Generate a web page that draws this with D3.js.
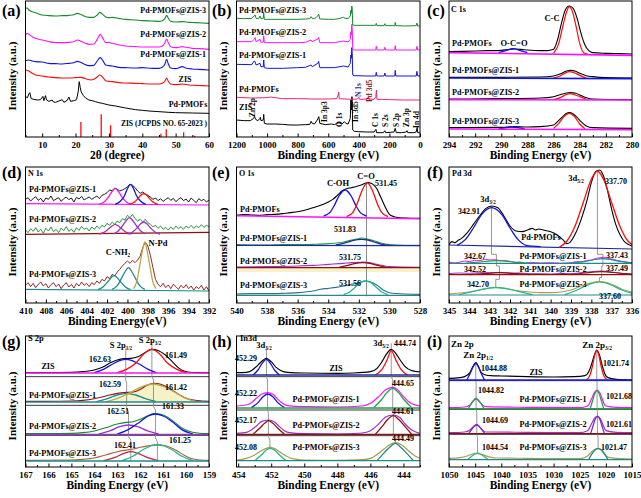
<!DOCTYPE html>
<html><head><meta charset="utf-8">
<script src="https://cdn.jsdelivr.net/npm/d3@7/dist/d3.min.js"></script>
<style>
html,body{margin:0;padding:0;background:#fff;}
text{font-family:"Liberation Serif","Times New Roman",serif;font-weight:bold;}
</style></head><body>
<svg id="chart" width="641" height="498"></svg>
<script>
// ================= DATA (x, intensity a.u. pairs) =================
const sampleNames = ["Pd-PMOFs","ZIS","Pd-PMOFs@ZIS-1","Pd-PMOFs@ZIS-2","Pd-PMOFs@ZIS-3"];

// (a) XRD, 2θ (degree)
const ticksA = [10,20,30,40,50,60], minorA = [5,15,25,35,45,55];
const xrdPdPMOFs = [5,121, 5.6,118, 6.0,129, 6.3,133, 6.7,115, 7.5,113, 8.5,111, 9.5,112, 10.2,122, 10.5,109, 11,124, 11.3,111, 12,107, 13,111, 13.4,105, 14,104, 15,108, 16,112, 16.5,104, 17.5,110, 18,120, 18.5,107, 19.5,109, 20.3,112, 20.8,136, 21.1,166, 21.4,149, 21.7,135, 22.3,125, 23,117, 24,111, 25,109, 26,106, 27,103, 28,101, 30,96, 32,93, 35,87, 38,82, 40,80, 42,78, 45,76, 48,74, 50,73, 55,72, 60,71];
const xrdZIS = [5,201, 6,198, 7,191, 8,186, 10,183, 12,180, 14,178, 16,177, 18,177, 20,178, 21.5,179, 23,175, 24.5,171, 25.5,173, 26.5,180, 27.3,186, 28.2,179, 29,169, 30,167, 31,166, 33,163, 35,162, 38,161, 40,160, 43,159, 45,159, 46,161, 46.8,168, 47.3,177, 47.8,167, 48.5,159, 50,157, 52,159, 54,156, 56,155, 58,154, 60,153];
const xrdZIS1 = [5,229, 6,231, 7,228, 8,226, 10,225, 12,221, 14,220, 16,219, 18,221, 19.5,223, 20.5,227, 21.3,225, 22.5,219, 24,214, 25.5,215, 26.5,228, 27.4,238, 28.2,229, 29,216, 30,214, 31,213, 33,209, 35,208, 38,207, 40,208, 43,206, 45,206, 46,209, 46.8,219, 47.3,233, 47.8,219, 48.5,207, 50,205, 52,211, 53,207, 55,204, 57,203, 60,201];
const xrdZIS2 = [5,308, 5.5,311, 6,308, 7,301, 8,296, 9,293, 10,291, 12,286, 14,283, 16,283, 18,284, 19.5,286, 20.5,291, 21.3,289, 22.5,283, 24,278, 25.5,279, 26.5,293, 27.4,308, 28.2,296, 29,283, 30,284, 31,281, 33,276, 35,273, 38,271, 40,270, 43,270, 45,270, 46,273, 46.8,283, 47.3,294, 47.8,283, 48.5,271, 50,268, 52,271, 53,269, 55,266, 57,265, 60,263];
const xrdZIS3 = [5,386, 5.5,387, 6,381, 7,376, 8,373, 9,369, 10,366, 12,364, 14,363, 16,364, 18,365, 19.5,367, 20.5,371, 21.3,369, 22.5,363, 24,359, 25.5,359, 26.5,366, 27.3,374, 28,369, 29,361, 30,358, 31,359, 33,356, 35,353, 38,351, 40,349, 43,348, 45,347, 46,349, 46.8,356, 47.3,365, 47.8,356, 48.5,347, 50,345, 52,346, 54,344, 56,343, 58,342, 60,341];
const jcpdsAngle = [21.6, 27.7, 30.5, 45.6, 47.2, 52.4, 55.7];
const jcpdsIntensity = [45, 68, 35, 10, 23, 14, 4];

// (b) XPS survey
const ticksB = [1200,1000,800,600,400,200,0], minorB = [1100,900,700,500,300,100];
const surveyZIS = [1200,51, 1150,49, 1110,49, 1090,55, 1082,61, 1075,53, 1060,49, 1048,55, 1044,59, 1040,49, 1025,51, 1022,68, 1018,41, 1000,39, 950,39, 900,38, 850,36, 800,36, 750,37, 720,38, 712,47, 705,41, 690,39, 668,54, 662,61, 655,41, 620,37, 580,39, 560,37, 530,43, 510,39, 495,46, 485,41, 470,39, 456,56, 452,111, 449,81, 445,121, 443,106, 440,21, 430,17, 400,16, 350,15, 300,15, 288,23, 284,13, 240,13, 230,19, 225,13, 170,15, 162,26, 155,13, 120,13, 90,15, 85,19, 80,13, 40,13, 25,15, 18,29, 15,13, 5,13, 0,13];
const surveyPd = [1200,119, 1100,117, 1000,118, 980,120, 900,115, 800,115, 700,114, 600,114, 545,115, 535,126, 532,135, 528,115, 450,113, 410,114, 400,119, 395,113, 345,114, 338,121, 333,114, 300,113, 289,121, 285,141, 282,113, 250,113, 200,112, 100,111, 0,111];
const surveyZIS1 = [1200,218, 1100,217, 1085,228, 1078,226, 1072,216, 1046,221, 1040,211, 1025,211, 1022,231, 1018,208, 1000,206, 900,206, 800,208, 750,209, 712,216, 705,211, 668,221, 663,227, 655,208, 560,208, 500,213, 470,210, 456,221, 452,246, 449,236, 446,268, 443,251, 440,186, 430,184, 350,183, 290,183, 286,194, 282,183, 235,183, 230,192, 225,183, 165,183, 162,200, 158,183, 25,183, 20,197, 15,183, 0,183];
const surveyZIS2 = [1200,286, 1100,286, 1085,293, 1078,298, 1072,286, 1046,293, 1040,284, 1025,285, 1022,304, 1018,283, 1000,283, 900,283, 800,283, 750,284, 712,291, 705,286, 668,294, 663,299, 655,283, 560,283, 500,288, 470,285, 456,293, 452,316, 449,306, 446,338, 443,321, 440,263, 430,261, 350,261, 290,261, 286,272, 282,261, 235,261, 230,269, 225,261, 165,261, 162,274, 158,261, 25,261, 20,272, 15,261, 0,261];
const surveyZIS3 = [1200,356, 1150,355, 1100,356, 1085,363, 1078,366, 1072,356, 1055,355, 1046,363, 1040,355, 1025,356, 1022,373, 1018,353, 1000,353, 900,353, 800,353, 750,354, 720,355, 712,361, 705,356, 690,355, 668,363, 663,369, 655,354, 600,353, 560,353, 530,355, 500,359, 490,356, 470,355, 456,363, 452,381, 449,371, 446,393, 443,381, 440,336, 430,335, 350,335, 290,335, 286,341, 282,334, 235,334, 230,340, 225,334, 165,334, 162,344, 158,334, 100,333, 25,334, 20,342, 15,333, 0,333];
const surveyPeakNames = ["Zn 2p","In 3p3","O 1s","In 3d5","N 1s","Pd 3d5","C 1s","S 2s","S 2p","Zn 3p","In 4d"];
const surveyPeakEnergies = [1022, 665, 530, 445, 400, 335, 285, 230, 162, 88, 18];

// (c) C 1s
const ticksC = [294,292,290,288,286,284,282,280], minorC = [293,291,289,287,285,283,281];
const c1sPdRaw = [294,256, 293,257, 292,258, 291,259, 290,260, 289.5,262, 289,264, 288.5,263, 288,261, 287,259, 286.5,259, 286,263, 285.7,291, 285.4,341, 285.1,381, 284.8,393, 284.5,386, 284.2,356, 283.9,311, 283.6,276, 283.3,259, 283,253, 282,251, 281,250, 280,249];
const c1sPdCC = [286,251, 285.6,281, 285.3,331, 285,376, 284.8,391, 284.6,381, 284.3,336, 284,281, 283.7,253, 283.4,249];
const c1sPdOCO = [290.2,253, 289.6,260, 289.1,265, 288.6,260, 288.0,253];
const c1sPdBg = [294,253, 280,245];
const c1s1Raw = [294,179, 290,179, 287,180, 286,183, 285.5,189, 285,198, 284.7,200, 284.3,197, 284,191, 283.5,184, 283,181, 282,178, 280,177];
const c1s1CC = [286,177, 285.5,183, 285,194, 284.8,196, 284.5,194, 284,185, 283.5,177];
const c1s1Bg = [294,177, 280,175];
const c1s2Raw = [294,114, 290,115, 287,117, 286,121, 285.5,127, 285,132, 284.7,133, 284.3,131, 284,126, 283.5,118, 283,114, 280,112];
const c1s2CC = [286,112, 285.5,118, 285,128, 284.8,130, 284.5,128, 284,121, 283.5,113];
const c1s2Bg = [294,112, 280,111];
const c1s3Raw = [294,28, 290,29, 289,31, 288,30, 287,31, 286,36, 285.7,46, 285.3,61, 285,71, 284.8,73, 284.5,69, 284.2,59, 283.9,46, 283.5,33, 283,28, 280,26];
const c1s3CC = [286,26, 285.6,41, 285.2,61, 284.8,71, 284.4,61, 284,39, 283.6,25];
const c1s3OCO = [290.2,24, 289.2,30, 288.2,24];
const c1s3Bg = [294,24, 280,22];

// (d) N 1s  (raw spectra on a 0.25 eV grid from 410 to 392 eV)
const ticksD = [410,408,406,404,402,400,398,396,394,392], minorD = [409,407,405,403,401,399,397,395,393];
const n1sEnergy = d3.range(410, 391.99, -0.25);
const n1s1Raw = [311,316,306,313,319,308,314,303,315,311, 321,307,312,316,305,313,318,310,315,303, 317,312,320,309,314,318,311,316,321,313, 323,326,331,339,337,345,341,336,339,343, 349,356,353,346,336,329,333,327,323,318, 311,315,307,313,305,311,316,308,314,304, 311,316,307,312,303,315,308,301,313,307, 311,303,309];
const n1s2Raw = [219,211,223,215,226,213,221,209,224,216, 228,214,221,211,225,217,229,215,222,212, 226,218,230,221,225,216,228,221,231,223, 233,228,239,233,243,236,246,241,253,249, 263,256,266,253,246,251,243,251,241,236, 229,233,224,231,221,227,219,228,221,231, 223,229,221,231,225,233,224,231,226,235, 227,233,229];
const n1s3Raw = [53,61,49,59,46,56,63,51,58,45, 55,61,49,57,43,54,61,48,56,45, 59,51,63,53,59,49,61,55,66,59, 71,66,79,73,86,81,93,101,111,119, 126,119,128,121,129,141,166,183,171,143, 106,71,56,49,59,46,54,43,56,49, 41,53,45,55,43,51,39,49,43,53, 39,49,36];
const n1s1FitA = [402.8,296, 402.3,303, 401.9,316, 401.55,333, 401.2,343, 400.85,333, 400.5,316, 400.1,303, 399.6,296];
const n1s1FitB = [401.2,296, 400.7,305, 400.3,321, 400.0,343, 399.7,356, 399.4,343, 399.1,321, 398.7,305, 398.2,296];
const n1s1FitC = [399.8,296, 399.3,303, 398.95,314, 398.7,323, 398.4,328, 398.1,323, 397.85,314, 397.5,303, 397.0,296];
const n1s1Bg = [410,298, 392,294];
const n1s2FitA = [402.8,207, 402.3,212, 401.9,221, 401.55,230, 401.2,236, 400.85,230, 400.5,221, 400.1,212, 399.6,207];
const n1s2FitB = [401.4,207, 400.9,216, 400.5,231, 400.15,246, 399.8,256, 399.45,246, 399.1,231, 398.7,216, 398.2,207];
const n1s2FitC = [400.0,207, 399.5,213, 399.1,224, 398.75,236, 398.4,243, 398.05,236, 397.7,224, 397.3,213, 396.8,207];
const n1s2Bg = [410,206, 392,212];
const n1s3FitA = [402.9,40, 402.4,48, 402.0,61, 401.65,74, 401.3,83, 400.95,74, 400.6,61, 400.2,48, 399.7,40];
const n1s3FitB = [401.5,41, 401.0,52, 400.6,73, 400.25,93, 399.9,106, 399.55,93, 399.2,73, 398.8,52, 398.3,41];
const n1s3FitC = [399.4,43, 399.1,63, 398.8,111, 398.55,154, 398.3,183, 398.05,154, 397.8,111, 397.5,63, 397.2,43];
const n1s3Bg = [410,41, 392,36];

// (e) O 1s
const ticksE = [540,538,536,534,532,530,528], minorE = [539,537,535,533,531,529];
const o1sPdRaw = [540,263, 539.5,265, 539,264, 538.5,263, 538,265, 537.5,266, 537,268, 536.5,271, 536,274, 535.5,279, 535,286, 534.5,293, 534,303, 533.7,311, 533.4,323, 533.1,336, 532.8,343, 532.5,346, 532.2,349, 531.9,353, 531.6,359, 531.4,361, 531.2,359, 531.0,353, 530.8,341, 530.6,321, 530.4,301, 530.2,281, 530,266, 529.7,259, 529.4,256, 529,255, 528.5,254, 528,254];
const o1sPdCOH = [534.3,261, 533.9,271, 533.6,293, 533.3,321, 532.9,339, 532.5,321, 532.2,293, 531.9,271, 531.5,261];
const o1sPdCO = [532.8,259, 532.4,271, 532.1,299, 531.8,336, 531.45,361, 531.1,336, 530.8,299, 530.5,271, 530.1,259];
const o1sPdBg = [540,262, 528,253];
const o1s1Raw = [540,175, 539,174, 538,174, 537,175, 536,175, 535,176, 534,178, 533,183, 532.5,189, 532,193, 531.8,195, 531.5,193, 531,187, 530.5,179, 530,175, 529,173, 528,173];
const o1s1Fit = [533.5,174, 533,179, 532.5,186, 532.1,190, 531.8,191, 531.4,189, 531,183, 530.5,176, 530,173];
const o1s1Bg = [540,173, 528,172];
const o1s2Raw = [540,108, 538,109, 536,111, 535,113, 534,116, 533,119, 532.5,121, 532,122, 531.7,123, 531.3,121, 531,118, 530.5,113, 530,109, 528,107];
const o1s2Fit = [533.3,107, 532.8,112, 532.3,118, 531.75,121, 531.2,118, 530.7,112, 530.2,107];
const o1s2Bg = [540,106, 528,106];
const o1s2Band = [540,93, 528,93];
const o1s3Raw = [540,27, 539,28, 538,28, 537,29, 536,31, 535,36, 534.5,41, 534,44, 533.5,47, 533,51, 532.5,56, 532,61, 531.6,66, 531.2,63, 530.8,53, 530.4,39, 530,31, 529,27, 528,26];
const o1s3Fit = [533,25, 532.6,33, 532.2,49, 531.9,61, 531.56,66, 531.2,61, 530.9,49, 530.5,33, 530.1,25];
const o1s3Bg = [540,23, 528,23];
const o1sGuide = [531.5,361, 531.5,20];
const o1sPeakLabels = ["531.45","531.83","531.75","531.56"];

// (f) Pd 3d
const ticksF = [345,344,343,342,341,340,339,338,337,336], minorF = [344.5,343.5,342.5,341.5,340.5,339.5,338.5,337.5,336.5];
const pd3dPdRaw = [345,176, 344.85,184, 344.7,181, 344.55,188, 344.4,193, 344.1,211, 343.8,236, 343.5,261, 343.2,283, 342.9,291, 342.6,286, 342.3,261, 342,231, 341.7,216, 341.4,214, 341.1,220, 340.9,224, 340.75,219, 340.6,222, 340.3,218, 340,214, 339.7,205, 339.4,190, 339.2,178, 339.05,182, 338.8,206, 338.5,251, 338.2,311, 338.0,361, 337.8,393, 337.6,399, 337.4,381, 337.2,336, 337,281, 336.8,236, 336.6,206, 336.4,186, 336.2,176, 336,171];
const pd3dPdFit1 = [344.6,173, 344.2,190, 343.8,225, 343.4,265, 342.91,286, 342.4,265, 342.0,225, 341.6,190, 341.2,173, 340.5,169];
const pd3dPdFit2 = [339.6,166, 339.2,186, 338.8,231, 338.4,301, 338.0,371, 337.7,396, 337.4,371, 337.0,301, 336.6,231, 336.2,186, 336,176];
const pd3dPdBg = [345,174, 336,162];
const pd3d1Raw = [345,123, 344.75,120, 344.5,122, 344.25,126, 344,124, 343.75,128, 343.5,127, 343.25,131, 343,129, 342.7,130, 342.5,127, 342.3,128, 342,125, 341.75,121, 341.5,123, 341.25,119, 341,122, 340.5,120, 340,121, 339.5,119, 339,121, 338.75,124, 338.5,123, 338.25,127, 338,129, 337.7,135, 337.4,137, 337.1,133, 336.9,131, 336.7,127, 336.5,125, 336.3,123, 336,121];
const pd3d1Fit1 = [344.2,119, 343.5,123, 342.67,127, 341.8,123, 341.1,119];
const pd3d1Fit2 = [339,119, 338.3,125, 337.43,133, 336.6,125, 336,120];
const pd3d1Bg = [345,119, 336,119];
const pd3d2Raw = [345,88, 344.5,90, 344,89, 343.5,91, 343,91, 342.5,92, 342,90, 341.5,90, 341,88, 340.5,88, 340,87, 339.5,89, 339,88, 338.5,91, 338,94, 337.5,96, 337,93, 336.5,89, 336,87];
const pd3d2Fit1 = [344,85, 343.3,88, 342.52,91, 341.7,88, 341,85];
const pd3d2Fit2 = [339,85, 338.3,90, 337.49,94, 336.7,90, 336,86];
const pd3d2Bg = [345,85, 336,85];
const pd3d3Raw = [345,27, 344.5,30, 344,33, 343.5,39, 343,45, 342.7,47, 342.3,45, 342,41, 341.5,36, 341,33, 340.5,31, 340,31, 339.5,33, 339,39, 338.5,51, 338,61, 337.6,64, 337.2,61, 336.8,51, 336.4,39, 336,33];
const pd3d3Fit1 = [344.5,25, 343.8,35, 343.2,43, 342.7,46, 342.2,43, 341.6,35, 340.9,25];
const pd3d3Fit2 = [339.3,25, 338.7,39, 338.1,56, 337.6,63, 337.1,56, 336.5,39, 336,29];
const pd3d3Bg = [345,24, 336,24];
const pd3dGuide32 = [342.91,291, 342.91,146, 342.67,146, 342.67,111, 342.52,111, 342.52,71, 342.70,71, 342.70,47];
const pd3dGuide52 = [337.70,399, 337.70,146, 337.43,146, 337.43,111, 337.49,111, 337.49,76, 337.60,76, 337.60,63];

// (g) S 2p
const ticksG = [167,166,165,164,163,162,161,160,159], minorG = [166.5,165.5,164.5,163.5,162.5,161.5,160.5,159.5];
const s2pZISRaw = [167,283, 166,283, 165,284, 164.5,286, 164,291, 163.6,301, 163.3,313, 163,321, 162.7,325, 162.4,326, 162.1,331, 161.8,343, 161.5,353, 161.2,349, 160.9,336, 160.6,316, 160.3,296, 160,286, 159.5,283, 159,283];
const s2pZISFit1 = [164,283, 163.6,293, 163.2,309, 162.9,319, 162.63,323, 162.35,319, 162.05,309, 161.65,293, 161.3,283];
const s2pZISFit2 = [163,283, 162.6,293, 162.2,311, 161.85,339, 161.49,353, 161.15,339, 160.8,311, 160.4,293, 160,283];
const s2pZISBg = [167,282, 159,282];
const s2p1Raw = [167,197, 166,197, 165,198, 164.5,200, 164,205, 163.5,213, 163,221, 162.6,224, 162.3,225, 162,233, 161.7,245, 161.4,251, 161.1,248, 160.8,239, 160.5,226, 160.2,213, 159.9,204, 159.5,199, 159,197];
const s2p1Fit1 = [163.9,196, 163.4,206, 163,216, 162.59,221, 162.2,216, 161.8,206, 161.3,196];
const s2p1Fit2 = [163.5,196, 163,206, 162.5,221, 162,239, 161.42,249, 160.9,239, 160.4,221, 160,206, 159.5,196];
const s2p1Bg = [167,195, 159,195];
const s2p2Raw = [167,100, 166,100, 165,101, 164.5,103, 164,108, 163.5,118, 163,129, 162.6,134, 162.3,136, 162,143, 161.7,153, 161.4,160, 161.1,158, 160.8,149, 160.5,134, 160.2,118, 159.9,108, 159.5,102, 159,100];
const s2p2Fit1 = [163.8,99, 163.3,109, 162.9,121, 162.51,126, 162.1,121, 161.7,109, 161.2,99];
const s2p2Fit2 = [163,99, 162.5,113, 162,136, 161.65,153, 161.33,159, 161,153, 160.6,136, 160.2,113, 159.7,99];
const s2p2Bg = [167,98, 159,98];
const s2p3Raw = [167,20, 165,21, 164.5,23, 164,27, 163.5,36, 163,46, 162.6,51, 162.3,54, 162,59, 161.6,64, 161.3,67, 161,65, 160.7,59, 160.4,49, 160.1,36, 159.8,26, 159.4,21, 159,20];
const s2p3Fit1 = [163.6,19, 163.1,29, 162.7,41, 162.41,46, 162.1,41, 161.7,29, 161.2,19];
const s2p3Fit2 = [162.8,19, 162.3,33, 161.9,51, 161.55,63, 161.25,66, 160.95,63, 160.6,51, 160.2,33, 159.7,19];
const s2p3Bg = [167,18, 159,18];
const s2pGuide12 = [162.63,356, 162.63,261, 162.59,251, 162.59,176, 162.51,166, 162.51,91, 162.41,81, 162.41,20];
const s2pGuide32 = [161.49,376, 161.49,271, 161.42,261, 161.42,181, 161.33,171, 161.33,86, 161.25,76, 161.25,20];

// (h) In 3d
const ticksH = [454,452,450,448,446,444], minorH = [453,451,449,447,445,443];
const in3dZISRaw = [454.1,283, 453.5,284, 453.2,289, 452.9,301, 452.6,316, 452.3,326, 452.0,316, 451.7,299, 451.4,289, 451,284, 450,282, 448,281, 447,282, 446,286, 445.6,296, 445.3,316, 445,341, 444.74,353, 444.5,343, 444.2,321, 443.9,301, 443.5,289, 443,285];
const in3dZISFit1 = [453.1,276, 452.8,291, 452.55,311, 452.29,323, 452.05,311, 451.8,291, 451.5,276];
const in3dZISFit2 = [445.7,276, 445.3,293, 445.0,320, 444.74,349, 444.45,320, 444.15,293, 443.75,276];
const in3dZISBg = [454.1,276, 443,276];
const in3d1Raw = [454.1,183, 453.5,186, 453.2,193, 452.9,206, 452.6,218, 452.22,223, 451.9,218, 451.6,203, 451.3,191, 451,184, 450,181, 448,180, 446.5,183, 446,191, 445.5,211, 445.1,231, 444.65,239, 444.3,229, 444,211, 443.6,193, 443,183];
const in3d1Fit1 = [453.2,178, 452.8,193, 452.5,211, 452.22,219, 451.9,211, 451.6,193, 451.2,178];
const in3d1Fit2 = [445.8,178, 445.35,201, 445.0,223, 444.65,236, 444.3,223, 443.95,201, 443.5,178];
const in3d1Bg = [454.1,177, 443,177];
const in3d2Raw = [454.1,101, 453.5,104, 453.2,111, 452.9,123, 452.6,136, 452.17,141, 451.8,135, 451.5,121, 451.2,109, 450.9,103, 450,100, 448,99, 446.5,102, 446,109, 445.5,129, 445.1,149, 444.61,156, 444.2,148, 443.9,129, 443.5,111, 443,101];
const in3d2Fit1 = [453.1,98, 452.7,116, 452.4,131, 452.17,139, 451.9,131, 451.6,116, 451.2,98];
const in3d2Fit2 = [445.7,98, 445.3,121, 444.95,143, 444.61,154, 444.3,143, 443.9,121, 443.5,98];
const in3d2Bg = [454.1,98, 443,98];
const in3d3Raw = [454.1,21, 453.5,26, 453,36, 452.6,49, 452.3,56, 452.08,59, 451.8,55, 451.5,46, 451.1,33, 450.7,25, 450,21, 448,20, 446.5,22, 446,26, 445.5,41, 445,61, 444.49,73, 444.1,66, 443.7,49, 443.3,33, 443,26];
const in3d3Fit1 = [453,19, 452.6,36, 452.3,51, 452.08,56, 451.8,51, 451.5,36, 451.1,19];
const in3d3Fit2 = [445.6,19, 445.2,41, 444.8,61, 444.49,71, 444.2,61, 443.8,41, 443.4,19];
const in3d3Bg = [454.1,19, 443,19];
const in3dGuide32 = [452.29,356, 452.29,271, 452.22,261, 452.22,171, 452.17,161, 452.17,91, 452.08,81, 452.08,59];
const in3dGuide52 = [444.74,371, 444.74,271, 444.65,261, 444.65,171, 444.61,161, 444.61,91, 444.49,81, 444.49,73];

// (i) Zn 2p
const ticksI = [1050,1045,1040,1035,1030,1025,1020,1015], minorI = [1047.5,1042.5,1037.5,1032.5,1027.5,1022.5,1017.5];
const zn2pZISRaw = [1050,266, 1048,268, 1047,271, 1046,283, 1045.5,299, 1044.88,313, 1044.3,299, 1043.8,283, 1043,276, 1042,274, 1040,273, 1035,271, 1030,270, 1026,271, 1024,274, 1023.3,285, 1022.7,310, 1022.2,335, 1021.74,351, 1021.2,335, 1020.7,305, 1020.2,280, 1019.6,268, 1018,263, 1015,261];
const zn2pZISFit1 = [1046.6,261, 1045.9,283, 1045.4,301, 1044.88,311, 1044.4,301, 1043.9,283, 1043.2,261];
const zn2pZISFit2 = [1023.74,262, 1023.34,267, 1022.94,280, 1022.54,305, 1022.14,335, 1021.74,349, 1021.34,335, 1020.94,305, 1020.54,280, 1020.14,267, 1019.74,262];
const zn2pZISBg = [1050,261, 1015,261];
const zn2p1Raw = [1050,178, 1047,180, 1046,186, 1045.5,196, 1044.82,206, 1044.2,196, 1043.6,186, 1043,181, 1035,179, 1025,178, 1023.5,183, 1022.7,206, 1022.2,223, 1021.68,231, 1021.1,221, 1020.5,196, 1020,183, 1018,179, 1015,178];
const zn2p1Fit1 = [1046.3,175, 1045.7,191, 1045.2,201, 1044.82,204, 1044.4,201, 1043.9,191, 1043.3,175];
const zn2p1Fit2 = [1023,175, 1022.5,201, 1022.1,221, 1021.68,229, 1021.3,221, 1020.9,201, 1020.4,175];
const zn2p1Bg = [1050,175, 1015,175];
const zn2p2Raw = [1050,103, 1047,105, 1046,111, 1045.5,119, 1044.69,128, 1044.1,119, 1043.5,109, 1043,105, 1035,104, 1025,103, 1023.5,109, 1022.7,131, 1022.2,146, 1021.61,153, 1021.0,143, 1020.4,121, 1020,109, 1018,104, 1015,103];
const zn2p2Fit1 = [1046.2,101, 1045.6,114, 1045.1,123, 1044.69,126, 1044.3,123, 1043.8,114, 1043.2,101];
const zn2p2Fit2 = [1022.9,101, 1022.4,126, 1022.0,145, 1021.61,151, 1021.2,145, 1020.8,126, 1020.3,101];
const zn2p2Bg = [1050,100, 1015,100];
const zn2p3Raw = [1050,26, 1048,28, 1046.5,33, 1045.5,39, 1044.54,42, 1043.6,37, 1042.5,31, 1041,27, 1035,26, 1025,25, 1023.5,33, 1022.6,47, 1022,54, 1021.47,56, 1020.9,51, 1020.3,39, 1019.5,29, 1017,25, 1015,24];
const zn2p3Fit1 = [1046.5,22, 1045.6,33, 1045,39, 1044.54,41, 1044.1,39, 1043.4,33, 1042.5,22];
const zn2p3Fit2 = [1023.3,22, 1022.6,41, 1022,52, 1021.47,55, 1020.9,52, 1020.3,41, 1019.6,22];
const zn2p3Bg = [1050,22, 1015,22];
const zn2pGuide12 = [1044.88,313, 1044.88,259, 1044.82,249, 1044.82,173, 1044.69,163, 1044.69,98, 1044.54,88, 1044.54,42];
const zn2pGuide32 = [1021.74,351, 1021.74,259, 1021.68,249, 1021.68,173, 1021.61,163, 1021.61,98, 1021.47,88, 1021.47,56];

// ================= DRAWING =================
const svg = d3.select('#chart');
const COL = {black:'#000', red:'#ff0a0a', blue:'#1414e0', magenta:'#ff10ff', green:'#138a2c', olive:'#ab9d4a',
  darkred:'#8e1010', purple:'#9a30d0', teal:'#1e8a8c', sea:'#22b88a', navy:'#1c2a9c', brown:'#a8623a',
  crimson:'#c8204a', pink:'#f0207a', gray:'#8c8c8c', steel:'#2f6f90', lgreen:'#22a04a', khaki:'#b8a848',
  yellow:'#f6f1c6'};
const COLS = [[25.5,209],[236.5,420],[449,632]];
const ROWS = [{top:1,bot:137,org:0},{top:167,bot:303,org:166},{top:336,bot:467,org:330}];
const pairs = a => d3.range(0, a.length - 1, 2).map(i => [a[i], a[i+1]]);

function panel(col,row,xdom,major,minor,letter,xTitle){
  const [l,r]=COLS[col], R=ROWS[row];
  const x=d3.scaleLinear().domain(xdom).range([l,r]);
  const y=d3.scaleLinear().domain([0,411]).range([R.org+137,R.org]);
  const id='clip'+letter;
  svg.append('clipPath').attr('id',id).append('rect').attr('x',l).attr('y',R.top).attr('width',r-l).attr('height',R.bot-R.top);
  const plot=svg.append('g').attr('clip-path',`url(#${id})`);
  const ax=svg.append('g').attr('transform',`translate(0,${R.bot})`);
  ax.call(d3.axisBottom(x).tickValues(major).tickSize(-3.5).tickPadding(4.5).tickFormat(d3.format('d')));
  ax.append('g').call(d3.axisBottom(x).tickValues(minor).tickSize(-2).tickFormat(''));
  ax.selectAll('.domain').remove();
  ax.selectAll('text').attr('font-size',9).style('fill','#000');
  ax.selectAll('line').attr('stroke','#000');
  svg.append('rect').attr('x',l).attr('y',R.top).attr('width',r-l).attr('height',R.bot-R.top)
     .attr('fill','none').attr('stroke','#000').attr('stroke-width',1);
  svg.append('text').attr('x',(l+r)/2).attr('y',R.bot+22).attr('text-anchor','middle').attr('font-size',11.5).text(xTitle);
  svg.append('text').attr('transform',`translate(${l-13.5},${R.org+76}) rotate(-90)`).attr('text-anchor','middle')
     .attr('dominant-baseline','central').attr('font-size',11).text('Intensity (a.u.)');
  const lx=[2,212,427][col], ly=[16,178,347][row];
  svg.append('text').attr('x',lx).attr('y',ly).attr('font-size',16).text(`(${letter})`);
  return {x,y,plot,l,r,top:R.top,bot:R.bot};
}
function draw(p,arr,color,w,smooth){
  const ln=d3.line().x(d=>p.x(d[0])).y(d=>p.y(d[1])).curve(smooth?d3.curveMonotoneX:d3.curveLinear);
  p.plot.append('path').attr('d',ln(pairs(arr))).attr('fill','none').attr('stroke',color)
    .attr('stroke-width',w).attr('stroke-linejoin','round');
}
function drawGrid(p,xs,ys,color,w){
  const ln=d3.line().x(d=>p.x(d[0])).y(d=>p.y(d[1]));
  const pts=d3.range(Math.min(xs.length,ys.length)).map(i=>[xs[i],ys[i]]);
  p.plot.append('path').attr('d',ln(pts)).attr('fill','none').attr('stroke',color).attr('stroke-width',w);
}
function fillArea(p,arr,base,color){
  const ar=d3.area().x(d=>p.x(d[0])).y0(p.y(base)).y1(d=>p.y(d[1])).curve(d3.curveMonotoneX);
  p.plot.append('path').attr('d',ar(pairs(arr))).attr('fill',color).attr('stroke','none');
}
function hline(p,v,color,w){
  p.plot.append('line').attr('x1',p.l).attr('x2',p.r).attr('y1',p.y(v)).attr('y2',p.y(v)).attr('stroke',color).attr('stroke-width',w);
}
function txt(x,y,s,size,anchor,fill){
  return svg.append('text').attr('x',x).attr('y',y).attr('font-size',size||8).attr('text-anchor',anchor||'start')
    .attr('dominant-baseline','central').style('fill',fill||'#000').text(s);
}
function subTxt(x,y,main,sub,size,anchor){
  const t=svg.append('text').attr('x',x).attr('y',y).attr('font-size',size).attr('text-anchor',anchor||'middle').attr('dominant-baseline','central');
  t.append('tspan').text(main);
  t.append('tspan').attr('font-size',size*0.6).attr('dy',size*0.3).text(sub);
  return t;
}

// ---- (a)
{
  const p=panel(0,0,[5,60],ticksA,minorA,'a','2θ (degree)');
  jcpdsAngle.forEach((a,i)=>p.plot.append('line').attr('x1',p.x(a)).attr('x2',p.x(a)).attr('y1',p.y(0)).attr('y2',p.y(jcpdsIntensity[i]))
      .attr('stroke',COL.red).attr('stroke-width',1.3));
  draw(p,xrdPdPMOFs,COL.black,1,false);
  draw(p,xrdZIS,COL.red,1.1,true);
  draw(p,xrdZIS1,COL.blue,1.1,true);
  draw(p,xrdZIS2,COL.magenta,1.1,true);
  draw(p,xrdZIS3,COL.green,1.1,true);
  txt(206,10,sampleNames[4],8,'end'); txt(206,34,sampleNames[3],8,'end'); txt(206,54,sampleNames[2],8,'end');
  txt(185,79,sampleNames[1],8,'middle'); txt(188,104,sampleNames[0],8,'middle');
  txt(207,123,'ZIS (JCPDS NO. 65-2023 )',7.5,'end');
}
// ---- (b)
{
  const p=panel(1,0,[1200,0],ticksB,minorB,'b','Binding Energy (eV)');
  draw(p,surveyZIS,COL.black,1,false);
  draw(p,surveyPd,COL.pink,1,false);
  draw(p,surveyZIS1,COL.blue,1,false);
  draw(p,surveyZIS2,COL.magenta,1,false);
  draw(p,surveyZIS3,COL.green,1,false);
  txt(239,10,sampleNames[4],8.2); txt(239,32,sampleNames[3],8.2); txt(239,55,sampleNames[2],8.2);
  txt(239,89,sampleNames[0],8.2); txt(239,107,sampleNames[1],8.2);
  const dx=[-11.5,6.5,1,4,0,1,-1,1,1,0,-1], by=[117,122,127,122,97,102,127,127,127,127,128];
  const fc=['#000','#000','#000','#000',COL.navy,COL.darkred,'#000','#000','#000','#000','#000'];
  surveyPeakNames.forEach((n,i)=>{
    svg.append('text').attr('transform',`translate(${p.x(surveyPeakEnergies[i])+dx[i]},${by[i]}) rotate(-90)`)
      .attr('font-size',7.5).attr('dominant-baseline','central').style('fill',fc[i]).text(n);
  });
}
// ---- (c)
{
  const p=panel(2,0,[294,280],ticksC,minorC,'c','Binding Energy (eV)');
  draw(p,c1sPdRaw,COL.black,1.1,true); draw(p,c1sPdCC,COL.red,1.2,true); draw(p,c1sPdOCO,COL.blue,1.3,true); draw(p,c1sPdBg,COL.magenta,1.6,false);
  draw(p,c1s1Raw,COL.black,1.1,true); draw(p,c1s1CC,COL.red,1.2,true); draw(p,c1s1Bg,COL.blue,1.6,false);
  draw(p,c1s2Raw,COL.black,1.1,true); draw(p,c1s2CC,COL.red,1.2,true); draw(p,c1s2Bg,COL.magenta,1.6,false);
  draw(p,c1s3Raw,COL.black,1.1,true); draw(p,c1s3CC,COL.red,1.2,true); draw(p,c1s3OCO,COL.blue,1.3,true); draw(p,c1s3Bg,COL.magenta,1.6,false);
  txt(451,9,'C 1s',8); txt(552,18,'C-C',8.5,'middle'); txt(514,43,'O-C=O',8.5,'middle');
  txt(452,43,sampleNames[0],8.2); txt(452,70,sampleNames[2],8.2); txt(452,92,sampleNames[3],8.2); txt(452,121,sampleNames[4],8.2);
}
// ---- (d)
{
  const p=panel(0,1,[410,392],ticksD,minorD,'d','Binding Energy(eV)');
  drawGrid(p,n1sEnergy,n1s1Raw,COL.black,0.9);
  drawGrid(p,n1sEnergy,n1s2Raw,COL.green,0.9);
  drawGrid(p,n1sEnergy,n1s3Raw,COL.darkred,0.9);
  draw(p,n1s1Bg,COL.magenta,1.2,false);
  draw(p,n1s1FitA,COL.magenta,1.3,true); draw(p,n1s1FitB,COL.blue,1.3,true); draw(p,n1s1FitC,COL.red,1.3,true);
  draw(p,n1s2Bg,COL.darkred,1.2,false);
  draw(p,n1s2FitA,'#b0309a',1.3,true); draw(p,n1s2FitB,COL.purple,1.3,true); draw(p,n1s2FitC,COL.purple,1.3,true);
  draw(p,n1s3Bg,COL.teal,1.2,false);
  draw(p,n1s3FitA,COL.teal,1.3,true); draw(p,n1s3FitB,COL.teal,1.3,true); draw(p,n1s3FitC,COL.khaki,1.3,true);
  txt(28,173,'N 1s',8);
  txt(29,189,sampleNames[2],8.2); txt(29,219,sampleNames[3],8.2); txt(29,274,sampleNames[4],8.2);
  subTxt(118,252,'C-NH','2',8.5); txt(158,243,'N-Pd',8.5,'middle');
}
// ---- (e)
{
  const p=panel(1,1,[540,528],ticksE,minorE,'e','Binding Energy (eV)');
  p.plot.append('path').attr('d',d3.area().x(d=>p.x(d[0])).y0(p.y(106)).y1(d=>p.y(d[1]))(pairs(o1s2Band))).attr('fill',COL.yellow);
  draw(p,o1sGuide,COL.gray,1,false);
  draw(p,o1sPdRaw,COL.black,1.1,true); draw(p,o1sPdCOH,COL.blue,1.3,true); draw(p,o1sPdCO,COL.red,1.3,true); draw(p,o1sPdBg,COL.magenta,1.5,false);
  draw(p,o1s1Raw,COL.lgreen,1.1,true); draw(p,o1s1Fit,COL.navy,1.3,true); draw(p,o1s1Bg,COL.navy,1.3,false);
  draw(p,o1s2Raw,COL.purple,1.1,true); draw(p,o1s2Fit,COL.darkred,1.3,true); draw(p,o1s2Bg,COL.darkred,1.3,false);
  draw(p,o1s3Raw,COL.steel,1.1,true); draw(p,o1s3Fit,COL.sea,1.3,true); draw(p,o1s3Bg,COL.teal,1.3,false);
  txt(239,173,'O 1s',8);
  txt(338,183,'C-OH',8.5,'middle'); txt(366,176,'C=O',8.5,'middle'); txt(386,183,o1sPeakLabels[0],8,'middle');
  txt(240,209,sampleNames[0],8.2); txt(240,238,sampleNames[2],8.2); txt(240,261,sampleNames[3],8.2); txt(240,285,sampleNames[4],8.2);
  txt(345,229,o1sPeakLabels[1],8,'middle'); txt(350,257,o1sPeakLabels[2],8,'middle'); txt(350,283,o1sPeakLabels[3],8,'middle');
}
// ---- (f)
{
  const p=panel(2,1,[345,336],ticksF,minorF,'f','Binding Energy (eV)');
  draw(p,pd3dGuide32,COL.gray,0.9,false); draw(p,pd3dGuide52,COL.gray,0.9,false);
  draw(p,pd3dPdRaw,COL.black,1.1,true); draw(p,pd3dPdBg,COL.navy,1.2,false);
  draw(p,pd3dPdFit1,COL.blue,1.3,true); draw(p,pd3dPdFit2,COL.red,1.3,true);
  draw(p,pd3d1Raw,COL.magenta,1,false); draw(p,pd3d1Fit1,COL.lgreen,1.2,true); draw(p,pd3d1Fit2,COL.teal,1.2,true); draw(p,pd3d1Bg,COL.teal,1.2,false);
  draw(p,pd3d2Raw,COL.purple,1,true); draw(p,pd3d2Fit1,COL.darkred,1.2,true); draw(p,pd3d2Fit2,COL.darkred,1.2,true); draw(p,pd3d2Bg,COL.darkred,1.2,false);
  draw(p,pd3d3Raw,COL.olive,1.1,true); draw(p,pd3d3Fit1,COL.sea,1.2,true); draw(p,pd3d3Fit2,COL.sea,1.2,true); draw(p,pd3d3Bg,COL.teal,1.2,false);
  txt(452,173,'Pd 3d',8);
  subTxt(488,199,'3d','3/2',8.5); txt(469,211,'342.91',8,'middle');
  subTxt(576,178,'3d','5/2',8.5); txt(616,181,'337.70',8,'middle');
  txt(541,237,sampleNames[0],8.2,'middle');
  txt(475,256,'342.67',8,'middle'); txt(553,256,sampleNames[2],8.2,'middle'); txt(617,255,'337.43',8,'middle');
  txt(475,269,'342.52',8,'middle'); txt(553,269,sampleNames[3],8.2,'middle'); txt(617,268,'337.49',8,'middle');
  txt(478,284,'342.70',8,'middle'); txt(553,284,sampleNames[4],8.2,'middle'); txt(610,296,'337.60',8,'middle');
}
// ---- (g)
{
  const p=panel(0,2,[167,159],ticksG,minorG,'g','Binding Energy (eV)');
  hline(p,271,'#222',0.9); hline(p,185,'#222',0.9); hline(p,95,'#222',0.9);
  fillArea(p,s2p1Fit2,195,COL.yellow);
  draw(p,s2pGuide12,COL.gray,0.9,false); draw(p,s2pGuide32,COL.gray,0.9,false);
  draw(p,s2pZISRaw,COL.black,1.1,true); draw(p,s2pZISFit1,COL.blue,1.3,true); draw(p,s2pZISFit2,COL.red,1.3,true); draw(p,s2pZISBg,COL.magenta,1.5,false);
  draw(p,s2p1Raw,COL.darkred,1.1,true); draw(p,s2p1Fit1,COL.teal,1.3,true); draw(p,s2p1Fit2,COL.khaki,1.3,true); draw(p,s2p1Bg,COL.teal,1.3,false);
  draw(p,s2p2Raw,COL.green,1.1,true); draw(p,s2p2Fit1,COL.purple,1.3,true); draw(p,s2p2Fit2,COL.blue,1.3,true); draw(p,s2p2Bg,COL.purple,1.3,false);
  draw(p,s2p3Raw,COL.brown,1.1,true); draw(p,s2p3Fit1,COL.crimson,1.3,true); draw(p,s2p3Fit2,COL.sea,1.3,true); draw(p,s2p3Bg,COL.teal,1.3,false);
  txt(28,338,'S 2p',8.5);
  subTxt(121,345,'S 2p','1/2',8.5); subTxt(150,340,'S 2p','3/2',8.5);
  txt(100,359,'162.63',8,'middle'); txt(176,355,'161.49',8,'middle'); txt(48,366,sampleNames[1],8.2,'middle');
  txt(110,384,'162.59',8,'middle'); txt(176,387,'161.42',8,'middle'); txt(29,395,sampleNames[2],8.2);
  txt(118,411,'162.51',8,'middle'); txt(173,406,'161.33',8,'middle'); txt(29,426,sampleNames[3],8.2);
  txt(125,445,'162.41',8,'middle'); txt(180,440,'161.25',8,'middle'); txt(29,453,sampleNames[4],8.2);
}
// ---- (h)
{
  const p=panel(1,2,[454.1,443],ticksH,minorH,'h','Binding Energy (eV)');
  hline(p,271,'#222',0.9); hline(p,171,'#222',0.9); hline(p,94,'#222',0.9);
  draw(p,in3dGuide32,COL.gray,0.9,false); draw(p,in3dGuide52,COL.gray,0.9,false);
  draw(p,in3dZISRaw,COL.black,1.2,true); draw(p,in3dZISFit1,COL.blue,1.3,true); draw(p,in3dZISFit2,COL.red,1.3,true); draw(p,in3dZISBg,COL.navy,1.3,false);
  draw(p,in3d1Raw,COL.magenta,1.2,true); draw(p,in3d1Fit1,COL.blue,1.3,true); draw(p,in3d1Fit2,COL.lgreen,1.3,true); draw(p,in3d1Bg,COL.lgreen,1.3,false);
  draw(p,in3d2Raw,COL.purple,1.2,true); draw(p,in3d2Fit1,COL.darkred,1.3,true); draw(p,in3d2Fit2,COL.darkred,1.3,true); draw(p,in3d2Bg,COL.darkred,1.3,false);
  draw(p,in3d3Raw,COL.olive,1.2,true); draw(p,in3d3Fit1,COL.sea,1.3,true); draw(p,in3d3Fit2,COL.teal,1.3,true); draw(p,in3d3Bg,COL.teal,1.3,false);
  txt(240,338,'In3d',8.5);
  subTxt(264,345,'3d','3/2',8.5); txt(246,358,'452.29',8,'middle');
  subTxt(381,343,'3d','5/2',8.5); txt(405,343,'444.74',8,'middle');
  txt(336,368,sampleNames[1],8.2,'middle');
  txt(246,393,'452.22',8,'middle'); txt(403,383,'444.65',8,'middle'); txt(326,399,sampleNames[2],8.2,'middle');
  txt(246,420,'452.17',8,'middle'); txt(403,411,'444.61',8,'middle'); txt(326,425,sampleNames[3],8.2,'middle');
  txt(246,447,'452.08',8,'middle'); txt(403,438,'444.49',8,'middle'); txt(326,447,sampleNames[4],8.2,'middle');
}
// ---- (i)
{
  const p=panel(2,2,[1050,1015],ticksI,minorI,'i','Binding Energy (eV)');
  hline(p,259,'#222',0.9); hline(p,173,'#222',0.9); hline(p,98,'#222',0.9);
  draw(p,zn2pGuide12,COL.gray,0.9,false); draw(p,zn2pGuide32,COL.gray,0.9,false);
  draw(p,zn2pZISRaw,COL.black,1.2,true); draw(p,zn2pZISFit1,COL.blue,1.3,true); draw(p,zn2pZISFit2,COL.red,1.3,true); draw(p,zn2pZISBg,COL.blue,1.3,false);
  draw(p,zn2p1Raw,COL.magenta,1.2,true); draw(p,zn2p1Fit1,COL.lgreen,1.3,true); draw(p,zn2p1Fit2,COL.lgreen,1.3,true); draw(p,zn2p1Bg,COL.lgreen,1.3,false);
  draw(p,zn2p2Raw,COL.purple,1.2,true); draw(p,zn2p2Fit1,'#7b2fbe',1.3,true); draw(p,zn2p2Fit2,'#7b2fbe',1.3,true); draw(p,zn2p2Bg,COL.darkred,1.3,false);
  draw(p,zn2p3Raw,COL.olive,1.2,true); draw(p,zn2p3Fit1,COL.sea,1.3,true); draw(p,zn2p3Fit2,COL.teal,1.3,true); draw(p,zn2p3Bg,COL.teal,1.3,false);
  txt(451,344,'Zn 2p',9);
  subTxt(478,355,'Zn 2p','1/2',9); subTxt(597,345,'Zn 2p','3/2',9);
  txt(494,368,'1044.88',8,'middle'); txt(536,372,sampleNames[1],8.2,'middle'); txt(616,363,'1021.74',8,'middle');
  txt(491,390,'1044.82',8,'middle'); txt(553,399,sampleNames[2],8.2,'middle'); txt(619,396,'1021.68',8,'middle');
  txt(495,420,'1044.69',8,'middle'); txt(553,424,sampleNames[3],8.2,'middle'); txt(619,424,'1021.61',8,'middle');
  txt(495,447,'1044.54',8,'middle'); txt(553,447,sampleNames[4],8.2,'middle'); txt(614,447,'1021.47',8,'middle');
}
</script>
</body></html>
